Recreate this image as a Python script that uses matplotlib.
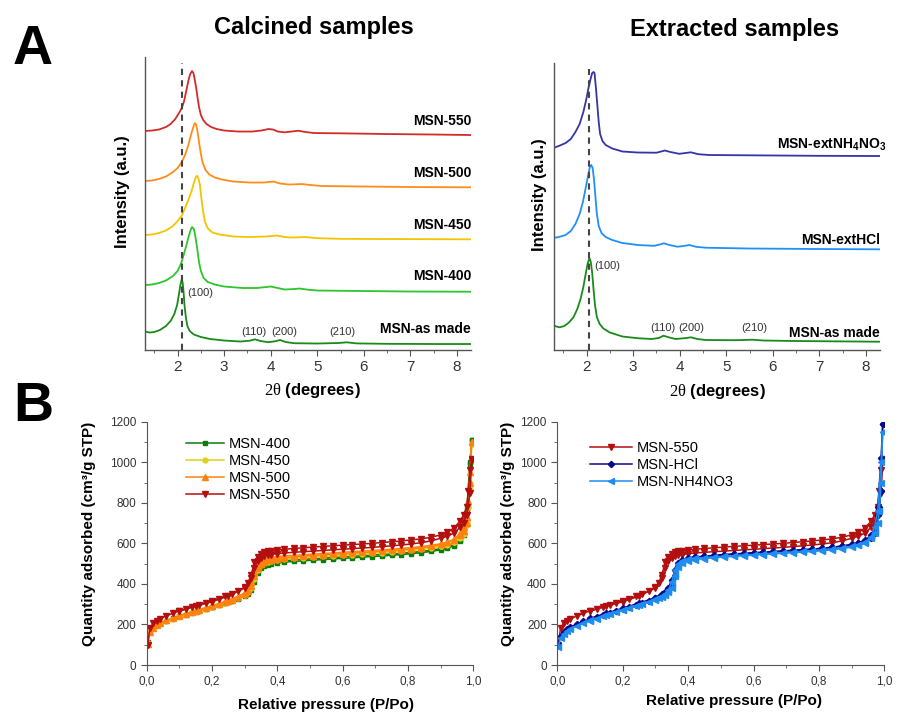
import matplotlib
matplotlib.use("Agg")
import matplotlib.pyplot as plt
from matplotlib.ticker import MultipleLocator, FuncFormatter

plt.rcParams["font.family"] = ["Liberation Sans", "DejaVu Sans"]
plt.rcParams["mathtext.fontset"] = "custom"
plt.rcParams["mathtext.rm"] = "Liberation Serif"
plt.rcParams["mathtext.bf"] = "Liberation Sans:bold"

# --- (A) XRD patterns, 2theta vs intensity (a.u., stacked) ---
x_550 = [1.30, 1.45, 1.60, 1.75, 1.85, 1.95, 2.03, 2.09, 2.14, 2.19, 2.23, 2.27, 2.31, 2.34, 2.37, 2.40,
         2.43, 2.46, 2.50, 2.55, 2.62, 2.72, 2.84, 3.0, 3.3, 3.6, 3.8, 3.95, 4.05, 4.15, 4.3, 4.45,
         4.59, 4.72, 4.92, 5.5, 6.5, 7.5, 8.3]
y_550 = [219, 219.5, 220.5, 223, 226, 231, 237, 242, 249, 260, 269, 276, 279, 277, 270, 262,
         252, 243, 235, 230, 226, 223, 221, 219.5, 218.5, 218.5, 219.5, 221, 220.5, 218.5, 217.7, 218.5,
         219.3, 218.2, 217, 216.7, 216, 215.5, 215]
x_500 = [1.30, 1.45, 1.60, 1.75, 1.90, 2.00, 2.09, 2.16, 2.23, 2.28, 2.33, 2.37, 2.40, 2.43, 2.46, 2.50,
         2.54, 2.60, 2.68, 2.80, 2.95, 3.2, 3.55, 3.85, 4.06, 4.2, 4.4, 4.67, 4.85, 5.1, 6.0, 7.0, 8.3]
y_500 = [169, 169.5, 171, 173.5, 178, 182, 188, 195, 205, 214, 222, 227, 225, 218, 208, 196,
         187, 180, 175.5, 172.5, 170.5, 168.5, 167.5, 167.5, 168.5, 166.5, 165.5, 166, 165, 164, 163.5, 163, 162.7]
x_450 = [1.30, 1.45, 1.60, 1.75, 1.90, 2.00, 2.09, 2.16, 2.23, 2.30, 2.35, 2.39, 2.42, 2.45, 2.48, 2.51,
         2.55, 2.59, 2.65, 2.75, 2.9, 3.2, 3.55, 3.9, 4.14, 4.3, 4.45, 4.75, 5.0, 5.5, 6.5, 8.3]
y_450 = [115, 115.5, 117, 119.5, 124, 129, 134.5, 142, 150, 159, 167, 173, 174.3, 171, 165, 152,
         138, 128, 121.5, 117.5, 115.5, 113.5, 113, 113.5, 114.5, 113, 112.5, 113, 111.8, 111.2, 111, 110.7]
x_400 = [1.30, 1.45, 1.60, 1.75, 1.90, 2.00, 2.07, 2.13, 2.19, 2.24, 2.28, 2.31, 2.35, 2.38, 2.42, 2.46,
         2.50, 2.56, 2.65, 2.8, 3.0, 3.4, 3.7, 3.9, 4.0, 4.15, 4.3, 4.5, 4.62, 4.8, 5.0, 6.0, 7.0, 8.3]
y_400 = [65, 65.5, 67, 69.5, 74, 79, 86, 95, 105, 114, 120, 123, 121, 114, 102, 88,
         79, 72, 68, 65.5, 63.5, 62, 62, 63, 63.5, 62, 60.5, 61, 61.5, 60.3, 59.5, 59, 58.5, 58.3]
x_asmade = [1.30, 1.40, 1.50, 1.62, 1.75, 1.85, 1.93, 1.99, 2.03, 2.06, 2.09, 2.11, 2.13, 2.15, 2.18,
            2.21, 2.26, 2.35, 2.5, 2.7, 3.0, 3.35, 3.55, 3.66, 3.78, 3.95, 4.1, 4.2, 4.32, 4.5, 5.0,
            5.45, 5.63, 5.85, 6.5, 7.5, 8.3]
y_asmade = [18.5, 17.5, 18, 20, 24, 29, 36, 45, 56, 65, 71, 67, 57, 44, 32,
            24, 19, 15.5, 13, 11, 9.5, 8.5, 9.3, 10.7, 9, 7.8, 8.8, 10, 8, 6.8, 6.5,
            7, 7.7, 6.6, 6.2, 6, 6]

x_nh4 = [1.28, 1.40, 1.55, 1.66, 1.76, 1.85, 1.93, 1.99, 2.04, 2.09, 2.12, 2.15, 2.17, 2.20, 2.23, 2.26,
         2.29, 2.34, 2.41, 2.55, 2.77, 3.1, 3.5, 3.6, 3.68, 3.8, 3.99, 4.12, 4.24, 4.4, 4.63, 5.5, 7.0, 8.29]
y_nh4 = [202, 204, 207, 211, 218, 226, 238, 250, 262, 272, 277, 278, 277, 262, 245, 228,
         216, 209, 205, 201.5, 198.5, 197.5, 197.3, 198.5, 199.5, 198, 196.2, 197, 197.7, 195.8, 195, 194.7,
         194.2, 194]
x_hcl = [1.28, 1.40, 1.55, 1.66, 1.76, 1.85, 1.92, 1.98, 2.03, 2.07, 2.10, 2.13, 2.16, 2.19, 2.22, 2.26,
         2.32, 2.41, 2.55, 2.77, 3.1, 3.45, 3.57, 3.66, 3.78, 3.95, 4.08, 4.21, 4.35, 4.56, 5.5, 7.0, 8.29]
y_hcl = [112, 113, 115, 119, 126, 136, 148, 162, 174, 183, 185, 182, 170, 153, 136, 124,
         117, 113, 110, 107, 105, 104.2, 105.5, 106.7, 105, 103.3, 104, 105, 103.2, 102.3, 101.5, 101, 100.7]
x_asmade_r = [1.28, 1.35, 1.42, 1.52, 1.62, 1.72, 1.80, 1.87, 1.93, 1.98, 2.02, 2.06, 2.09, 2.12, 2.15,
              2.18, 2.22, 2.28, 2.36, 2.5, 2.77, 3.1, 3.4, 3.55, 3.65, 3.78, 3.91, 4.1, 4.24, 4.38, 4.56,
              5.2, 5.56, 5.8, 6.5, 7.5, 8.29]
y_asmade_r = [25, 23.5, 22.7, 24, 27.5, 33, 41, 51, 63, 76, 86, 92, 88, 77, 60,
              45, 33, 26, 21.5, 17.5, 13.5, 11.8, 11, 12, 14.3, 12.5, 11, 11.8, 12.7, 11, 10,
              9.8, 10.3, 9.5, 9, 8.6, 8.3]

# --- (B) N2 isotherms: relative pressure and quantity adsorbed (cm3/g STP) ---
p_ads = [0.003, 0.01, 0.02, 0.03, 0.04, 0.06, 0.08, 0.10, 0.12, 0.14, 0.16, 0.18, 0.20, 0.22, 0.24,
         0.26, 0.28, 0.30, 0.31, 0.32, 0.33, 0.34, 0.35, 0.36, 0.37, 0.38, 0.40, 0.42, 0.45, 0.48,
         0.51, 0.54, 0.57, 0.60, 0.63, 0.66, 0.69, 0.72, 0.75, 0.78, 0.81, 0.84, 0.87, 0.90, 0.92,
         0.94, 0.96, 0.97, 0.98, 0.985, 0.99, 0.995]
p_des = [0.995, 0.99, 0.98, 0.97, 0.96, 0.94, 0.92, 0.90, 0.87, 0.84, 0.81, 0.78, 0.75, 0.72, 0.69,
         0.66, 0.63, 0.60, 0.57, 0.54, 0.51, 0.48, 0.45, 0.42, 0.40, 0.38, 0.37, 0.36, 0.35, 0.34,
         0.33, 0.32, 0.30, 0.25, 0.20, 0.15, 0.10]

ads_400 = [115, 172, 188, 199, 207, 219, 230, 240, 249, 258, 267, 276, 285, 295, 305, 315, 328, 342,
           352, 370, 410, 455, 478, 488, 494, 498, 503, 507, 511, 514, 517, 520, 523, 526, 529, 532,
           535, 538, 541, 545, 549, 554, 560, 568, 576, 588, 610, 640, 700, 780, 990, 1110]
des_400 = [1110, 1000, 770, 650, 615, 594, 582, 574, 566, 560, 555, 551, 548, 545, 542, 539, 536, 533,
           530, 527, 524, 521, 518, 515, 512, 507, 503, 498, 488, 470, 435, 390, 345, 310, 287, 262, 242]
ads_450 = [110, 168, 183, 195, 204, 217, 229, 240, 250, 259, 268, 277, 287, 297, 307, 317, 330, 345,
           358, 380, 425, 470, 492, 503, 509, 513, 518, 522, 526, 530, 533, 536, 539, 542, 545, 548,
           551, 554, 557, 561, 565, 570, 576, 585, 594, 608, 635, 665, 710, 780, 900, 1090]
des_450 = [1090, 870, 690, 645, 625, 605, 595, 588, 580, 575, 570, 566, 563, 560, 557, 554, 551, 548,
           545, 542, 539, 536, 533, 530, 527, 523, 520, 515, 505, 488, 450, 400, 350, 313, 289, 265, 242]
ads_500 = [105, 165, 185, 198, 207, 220, 232, 243, 252, 262, 271, 280, 290, 300, 310, 320, 333, 350,
           365, 390, 440, 480, 500, 510, 516, 520, 525, 529, 533, 537, 540, 543, 546, 549, 552, 555,
           558, 561, 565, 569, 573, 578, 585, 595, 605, 620, 650, 680, 730, 810, 950, 1100]
des_500 = [1100, 900, 700, 660, 640, 618, 606, 598, 590, 584, 579, 575, 571, 568, 565, 562, 559, 556,
           553, 550, 547, 544, 541, 538, 535, 531, 528, 524, 515, 498, 460, 410, 355, 318, 292, 268, 245]
ads_550 = [100, 185, 205, 218, 228, 242, 255, 268, 278, 288, 298, 308, 318, 328, 338, 350, 365, 385,
           405, 445, 510, 535, 548, 555, 560, 563, 567, 570, 575, 578, 582, 585, 588, 591, 594, 597,
           600, 604, 608, 612, 617, 622, 630, 642, 655, 675, 710, 740, 780, 860, 960, 1015]
des_550 = [1010, 850, 740, 700, 680, 650, 635, 625, 612, 603, 597, 592, 588, 584, 580, 577, 574, 571,
           568, 565, 562, 559, 556, 552, 549, 545, 542, 538, 530, 515, 480, 430, 380, 340, 312, 290, 265]
ads_hcl = [105, 145, 165, 178, 188, 202, 215, 227, 238, 248, 258, 268, 278, 288, 298, 308, 318, 330,
           337, 345, 355, 368, 395, 440, 490, 512, 525, 531, 537, 541, 545, 548, 551, 554, 557, 560,
           563, 566, 569, 572, 576, 581, 587, 595, 603, 615, 640, 660, 740, 780, 860, 1190]
des_hcl = [1190, 1020, 780, 650, 625, 610, 600, 593, 586, 580, 575, 571, 567, 564, 561, 558, 555, 552,
           549, 546, 543, 540, 536, 532, 528, 520, 505, 470, 420, 380, 360, 350, 332, 305, 280, 255, 230]
ads_nh4 = [90, 135, 155, 168, 178, 193, 206, 218, 229, 240, 250, 260, 270, 280, 290, 300, 311, 322,
           329, 336, 345, 358, 380, 440, 485, 505, 515, 520, 525, 529, 533, 536, 539, 542, 545, 548,
           551, 554, 557, 560, 564, 568, 574, 582, 590, 600, 625, 650, 700, 760, 900, 1150]
des_nh4 = [1150, 1000, 760, 680, 630, 605, 592, 585, 578, 572, 567, 563, 560, 557, 554, 551, 548, 545,
           542, 539, 536, 533, 530, 526, 522, 515, 500, 470, 410, 370, 352, 342, 325, 298, 273, 248, 222]

fig = plt.figure(figsize=(9.13, 7.12), dpi=100)

ax1 = fig.add_axes([0.1588, 0.5084, 0.3571, 0.4115])
ax2 = fig.add_axes([0.6068, 0.5084, 0.3571, 0.4031])
ax3 = fig.add_axes([0.1607, 0.0660, 0.3577, 0.3417])
ax4 = fig.add_axes([0.6104, 0.0660, 0.3582, 0.3417])

tick_col = "#333333"


def style_xrd(ax, top):
    ax.set_xlim(1.3, 8.3)
    ax.set_ylim(0, top)
    ax.spines["top"].set_visible(False)
    ax.spines["right"].set_visible(False)
    for s in ("left", "bottom"):
        ax.spines[s].set_color("#555555")
        ax.spines[s].set_linewidth(1.0)
    ax.set_yticks([])
    ax.xaxis.set_major_locator(MultipleLocator(1))
    ax.xaxis.set_minor_locator(MultipleLocator(0.5))
    ax.tick_params(axis="x", which="major", direction="out", length=4, labelsize=11, colors="#555555",
                   labelcolor=tick_col)
    ax.tick_params(axis="x", which="minor", direction="out", length=2.5, colors="#555555")
    ax.set_xlabel(r"$\mathrm{2θ}$ (degrees)", fontsize=12, fontweight="bold")
    ax.set_ylabel("Intensity (a.u.)", fontsize=12, fontweight="bold")


# Calcined samples
style_xrd(ax1, 293)
ax1.plot(x_550, y_550, color="#d42a2a", lw=1.3)
ax1.plot(x_500, y_500, color="#ff8c1a", lw=1.3)
ax1.plot(x_450, y_450, color="#f2c500", lw=1.3)
ax1.plot(x_400, y_400, color="#2ec42e", lw=1.3)
ax1.plot(x_asmade, y_asmade, color="#1a8a1a", lw=1.3)
ax1.axvline(2.09, ymax=0.98, color="#444444", lw=1.5, ls=(0, (3, 2.5)))
for txt, yy in [("MSN-550", 222), ("MSN-500", 170), ("MSN-450", 118), ("MSN-400", 67), ("MSN-as made", 14)]:
    ax1.text(8.3, yy, txt, ha="right", va="bottom", fontsize=10, fontweight="bold")
ax1.text(2.2, 57, "(100)", fontsize=8, color="#333333", ha="left", va="center")
for txt, xx in [("(110)", 3.64), ("(200)", 4.28), ("(210)", 5.53)]:
    ax1.text(xx, 13, txt, fontsize=8, color="#333333", ha="center", va="bottom")
ax1.xaxis.set_label_coords(0.515, -0.105)
ax1.yaxis.set_label_coords(-0.045, 0.54)

# Extracted samples
style_xrd(ax2, 287)
ax2.plot(x_nh4, y_nh4, color="#3535a5", lw=1.3)
ax2.plot(x_hcl, y_hcl, color="#2090f5", lw=1.3)
ax2.plot(x_asmade_r, y_asmade_r, color="#1a8a1a", lw=1.3)
ax2.axvline(2.05, ymax=0.98, color="#444444", lw=1.5, ls=(0, (3, 2.5)))
ax2.text(8.45, 197, r"MSN-extNH$_\mathbf{4}$NO$_\mathbf{3}$", ha="right", va="bottom", fontsize=10,
         fontweight="bold")
ax2.text(8.3, 103, "MSN-extHCl", ha="right", va="bottom", fontsize=10, fontweight="bold")
ax2.text(8.3, 10, "MSN-as made", ha="right", va="bottom", fontsize=10, fontweight="bold")
ax2.text(2.16, 84, "(100)", fontsize=8, color="#333333", ha="left", va="center")
for txt, xx in [("(110)", 3.63), ("(200)", 4.25), ("(210)", 5.6)]:
    ax2.text(xx, 17, txt, fontsize=8, color="#333333", ha="center", va="bottom")
ax2.xaxis.set_label_coords(0.5, -0.11)
ax2.yaxis.set_label_coords(-0.02, 0.54)

comma = FuncFormatter(lambda v, _: f"{v:.1f}".replace(".", ","))


def style_iso(ax):
    ax.set_xlim(0, 1.0)
    ax.set_ylim(0, 1200)
    ax.spines["top"].set_visible(False)
    ax.spines["right"].set_visible(False)
    for s in ("left", "bottom"):
        ax.spines[s].set_color("#555555")
    ax.xaxis.set_major_locator(MultipleLocator(0.2))
    ax.xaxis.set_minor_locator(MultipleLocator(0.1))
    ax.xaxis.set_major_formatter(comma)
    ax.yaxis.set_major_locator(MultipleLocator(200))
    ax.yaxis.set_minor_locator(MultipleLocator(100))
    ax.tick_params(which="major", direction="out", length=4, labelsize=8.5, colors="#555555",
                   labelcolor=tick_col)
    ax.tick_params(which="minor", direction="out", length=2.5, colors="#555555")
    ax.set_xlabel("Relative pressure (P/Po)", fontsize=11, fontweight="bold")
    ax.set_ylabel("Quantity adsorbed (cm³/g STP)", fontsize=11, fontweight="bold")


def iso(ax, ads, des, color, marker, label, ms=4):
    ax.plot(p_ads, ads, color=color, marker=marker, ms=ms, lw=1.1, label=label)
    ax.plot(p_des, des, color=color, marker=marker, ms=ms, lw=1.1)


style_iso(ax3)
iso(ax3, ads_400, des_400, "#0a7d0a", "s", "MSN-400", 3.5)
iso(ax3, ads_450, des_450, "#e0d21a", "o", "MSN-450", 3.5)
iso(ax3, ads_500, des_500, "#ff8210", "^", "MSN-500")
iso(ax3, ads_550, des_550, "#b40f0f", "v", "MSN-550")
ax3.legend(loc="upper left", bbox_to_anchor=(0.08, 0.99), frameon=False, fontsize=10.5,
           handlelength=2.6, labelspacing=0.2, handletextpad=0.3)
ax3.xaxis.set_label_coords(0.55, -0.135)
ax3.yaxis.set_label_coords(-0.155, 0.54)

style_iso(ax4)
iso(ax4, ads_550, des_550, "#b40f0f", "v", "MSN-550")
iso(ax4, ads_hcl, des_hcl, "#0a0a8c", "D", "MSN-HCl", 3.2)
iso(ax4, ads_nh4, des_nh4, "#1e8cf0", "<", "MSN-NH4NO3")
ax4.legend(loc="upper left", bbox_to_anchor=(0.06, 0.975), frameon=False, fontsize=10.5,
           handlelength=2.9, labelspacing=0.2, handletextpad=0.3)
ax4.xaxis.set_label_coords(0.54, -0.12)
ax4.yaxis.set_label_coords(-0.13, 0.54)

# panel letters and titles
fig.text(0.036, 0.93, "A", fontsize=40, fontweight="bold", ha="center", va="center")
fig.text(0.036, 0.428, "B", fontsize=40, fontweight="bold", ha="center", va="center")
fig.text(0.344, 0.962, "Calcined samples", fontsize=17, fontweight="bold", ha="center", va="center")
fig.text(0.805, 0.958, "Extracted samples", fontsize=17, fontweight="bold", ha="center", va="center")

fig.savefig("out.png", dpi=100)
